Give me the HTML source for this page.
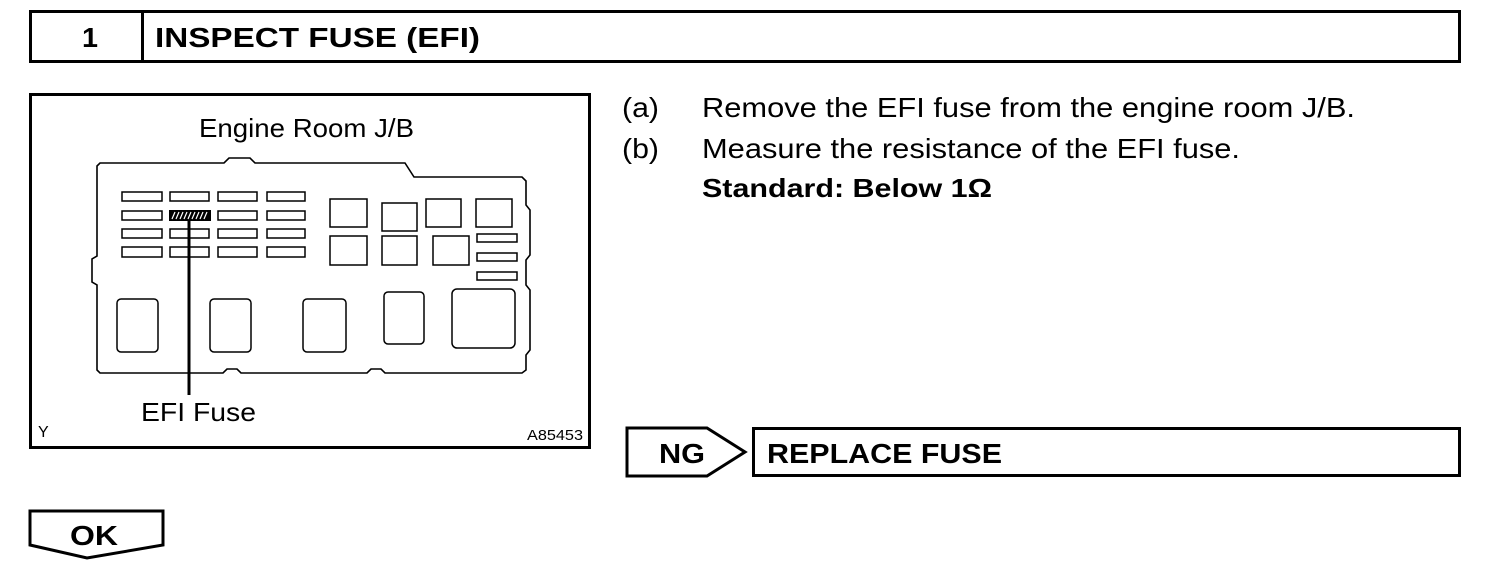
<!DOCTYPE html>
<html><head><style>
html,body{margin:0;padding:0;background:#fff;}
body{width:1504px;height:572px;overflow:hidden;}
svg text{font-family:"Liberation Sans",Arial,sans-serif;fill:#000;}
</style></head><body>
<svg width="1504" height="572" viewBox="0 0 1504 572" xmlns="http://www.w3.org/2000/svg">
<g fill="none" stroke="#000" stroke-width="3">
<rect x="30.5" y="11.5" width="1429" height="50"/>
<line x1="142.5" y1="11" x2="142.5" y2="62"/>
<rect x="30.5" y="94.5" width="559" height="353"/>
<polygon points="627,428 707,428 745,452 707,476 627,476"/>
<rect x="753.5" y="428.5" width="706" height="47"/>
<polygon points="30,511 163,511 163,545 87,558 30,545"/>
</g>
<g fill="none" stroke="#000" stroke-width="1.6">
<path d="M100,163 L224,163 L229,158 L250,158 L255,163 L405,163 L414,177 L522,177 L526,181 L526,205 L530,210 L530,255 L526,260 L526,285 L530,290 L530,350 L526,355 L526,370 L522,373 L385,373 L381,369 L371,369 L367,373 L241,373 L237,369 L227,369 L223,373 L100,373 L97,370 L97,285 L92,282 L92,259 L97,256 L97,166 Z"/>
</g>
<g fill="none" stroke="#000" stroke-width="1.5">
<rect x="122" y="192" width="40" height="9"/><rect x="170" y="192" width="39" height="9"/><rect x="218" y="192" width="39" height="9"/><rect x="267" y="192" width="38" height="9"/>
<rect x="122" y="211" width="40" height="9"/><rect x="218" y="211" width="39" height="9"/><rect x="267" y="211" width="38" height="9"/>
<rect x="122" y="229" width="40" height="9"/><rect x="170" y="229" width="39" height="9"/><rect x="218" y="229" width="39" height="9"/><rect x="267" y="229" width="38" height="9"/>
<rect x="122" y="247" width="40" height="10"/><rect x="170" y="247" width="39" height="10"/><rect x="218" y="247" width="39" height="10"/><rect x="267" y="247" width="38" height="10"/>
<rect x="330" y="199" width="37" height="28"/><rect x="382" y="203" width="35" height="28"/><rect x="426" y="199" width="35" height="28"/><rect x="476" y="199" width="36" height="28"/>
<rect x="330" y="236" width="37" height="29"/><rect x="382" y="236" width="35" height="29"/><rect x="433" y="236" width="36" height="29"/>
<rect x="477" y="234" width="40" height="8"/><rect x="477" y="253" width="40" height="8"/><rect x="477" y="272" width="40" height="8"/>
<rect x="117" y="299" width="41" height="53" rx="4"/><rect x="210" y="299" width="41" height="53" rx="4"/><rect x="303" y="299" width="43" height="53" rx="4"/><rect x="384" y="292" width="40" height="52" rx="4"/><rect x="452" y="289" width="63" height="59" rx="5"/>
</g>
<rect x="169" y="210" width="42" height="11" fill="#000"/>
<g stroke="#fff" stroke-width="1.2">
<path d="M172,219 l3,-7 M176,219 l3,-7 M180,219 l3,-7 M184,219 l3,-7 M188,219 l3,-7 M192,219 l3,-7 M196,219 l3,-7 M200,219 l3,-7 M204,219 l3,-7"/>
</g>
<line x1="189" y1="220" x2="189" y2="395" stroke="#000" stroke-width="3"/>
<text x="82" y="47" font-size="28" font-weight="bold" textLength="16" lengthAdjust="spacingAndGlyphs">1</text>
<text x="155" y="47" font-size="28" font-weight="bold" textLength="325" lengthAdjust="spacingAndGlyphs">INSPECT FUSE (EFI)</text>
<text x="199" y="137" font-size="26" textLength="215" lengthAdjust="spacingAndGlyphs">Engine Room J/B</text>
<text x="141" y="421" font-size="26" textLength="115" lengthAdjust="spacingAndGlyphs">EFI Fuse</text>
<text x="38" y="437" font-size="16">Y</text>
<text x="527" y="440" font-size="15" textLength="56" lengthAdjust="spacingAndGlyphs">A85453</text>
<text x="622" y="117" font-size="28" textLength="37" lengthAdjust="spacingAndGlyphs">(a)</text>
<text x="702" y="117" font-size="28" textLength="653" lengthAdjust="spacingAndGlyphs">Remove the EFI fuse from the engine room J/B.</text>
<text x="622" y="158" font-size="28" textLength="37" lengthAdjust="spacingAndGlyphs">(b)</text>
<text x="702" y="158" font-size="28" textLength="538" lengthAdjust="spacingAndGlyphs">Measure the resistance of the EFI fuse.</text>
<text x="702" y="197" font-size="26" font-weight="bold" textLength="290" lengthAdjust="spacingAndGlyphs">Standard: Below 1Ω</text>
<text x="659" y="463" font-size="28" font-weight="bold" textLength="46" lengthAdjust="spacingAndGlyphs">NG</text>
<text x="767" y="463" font-size="28" font-weight="bold" textLength="235" lengthAdjust="spacingAndGlyphs">REPLACE FUSE</text>
<text x="70" y="545" font-size="28" font-weight="bold" textLength="48" lengthAdjust="spacingAndGlyphs">OK</text>
</svg>
</body></html>
